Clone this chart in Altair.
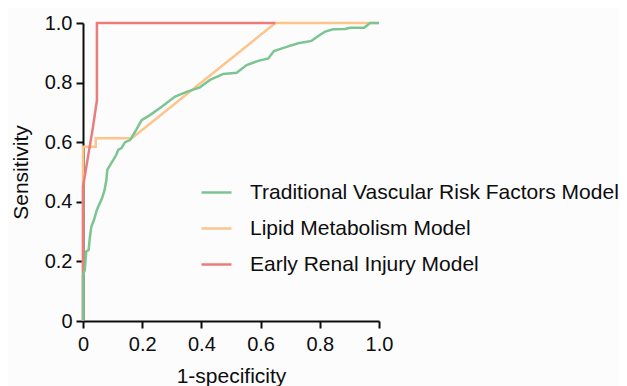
import altair as alt
import pandas as pd

series_names = ["Traditional Vascular Risk Factors Model", "Lipid Metabolism Model", "Early Renal Injury Model"]
series_colors = ["#7cc492", "#fdc58c", "#ea7c7c"]

trad_x = [0, 0, 0.006, 0.011, 0.019, 0.023, 0.028, 0.037, 0.045, 0.051, 0.064, 0.073, 0.079, 0.082,
          0.091, 0.102, 0.112, 0.119, 0.13, 0.142, 0.159, 0.176, 0.198, 0.226, 0.266, 0.311, 0.35,
          0.395, 0.429, 0.474, 0.519, 0.553, 0.592, 0.626, 0.645, 0.688, 0.727, 0.772, 0.80, 0.818,
          0.845, 0.885, 0.902, 0.95, 0.97, 1.0]
trad_y = [0, 0.154, 0.171, 0.233, 0.238, 0.278, 0.316, 0.339, 0.367, 0.383, 0.411, 0.44, 0.473, 0.507,
          0.522, 0.54, 0.557, 0.574, 0.58, 0.60, 0.607, 0.635, 0.674, 0.691, 0.719, 0.753, 0.769,
          0.784, 0.809, 0.829, 0.833, 0.859, 0.873, 0.881, 0.906, 0.92, 0.932, 0.94, 0.96, 0.971,
          0.979, 0.98, 0.984, 0.984, 1.0, 1.0]

lipid_x = [0, 0, 0.043, 0.043, 0.165, 0.65, 1.0]
lipid_y = [0, 0.585, 0.585, 0.613, 0.613, 1.0, 1.0]

renal_x = [0, 0, 0.015, 0.032, 0.047, 0.047, 0.65]
renal_y = [0, 0.45, 0.54, 0.64, 0.74, 1.0, 1.0]

tick_values = [0, 0.2, 0.4, 0.6, 0.8, 1.0]

rows = []
# drawing order: lipid (bottom), renal, traditional (top)
for name, xs, ys in [(series_names[1], lipid_x, lipid_y),
                     (series_names[2], renal_x, renal_y),
                     (series_names[0], trad_x, trad_y)]:
    for i, (a, b) in enumerate(zip(xs, ys)):
        rows.append({"model": name, "fpr": a, "tpr": b, "idx": i})
df = pd.DataFrame(rows)

label_expr = "datum.value == 0 ? '0' : format(datum.value, '.1f')"
font = "Liberation Sans"
ink = "#0d0d0d"

chart = alt.Chart(df).mark_line(strokeWidth=2.5, interpolate="linear").encode(
    x=alt.X("fpr:Q", scale=alt.Scale(domain=[0, 1], nice=False),
            axis=alt.Axis(values=tick_values, labelExpr=label_expr, title="1-specificity",
                          grid=False, domainColor=ink, domainWidth=2, tickColor=ink,
                          tickWidth=2, tickSize=7, labelFontSize=20, labelFont=font,
                          labelColor=ink, labelPadding=6, titleFont=font, titleFontSize=21,
                          titleFontWeight="normal", titleColor=ink, titlePadding=11,
                          labelFlush=False)),
    y=alt.Y("tpr:Q", scale=alt.Scale(domain=[0, 1], nice=False),
            axis=alt.Axis(values=tick_values, labelExpr=label_expr, title="Sensitivity",
                          grid=False, domainColor=ink, domainWidth=2, tickColor=ink,
                          tickWidth=2, tickSize=7, labelFontSize=20, labelFont=font,
                          labelColor=ink, labelPadding=4, titleFont=font, titleFontSize=21,
                          titleFontWeight="normal", titleColor=ink, titlePadding=13,
                          labelFlush=False)),
    color=alt.Color("model:N", scale=alt.Scale(domain=series_names, range=series_colors),
                    legend=alt.Legend(title=None, orient="none", legendX=117, legendY=153,
                                      symbolType="stroke", symbolSize=900, symbolStrokeWidth=2.5,
                                      labelFontSize=21, labelFont=font, labelColor=ink,
                                      labelOffset=17, rowPadding=9, labelLimit=500)),
    order=alt.Order("idx:Q"),
).properties(
    width=296, height=298,
    background="#fcfcfd",
    autosize=alt.AutoSizeParams(type="none"),
    padding={"left": 75, "top": 15, "right": 240, "bottom": 65},
).configure_view(stroke=None)

chart.save("out.html", embed_options={"renderer": "svg", "actions": False})
